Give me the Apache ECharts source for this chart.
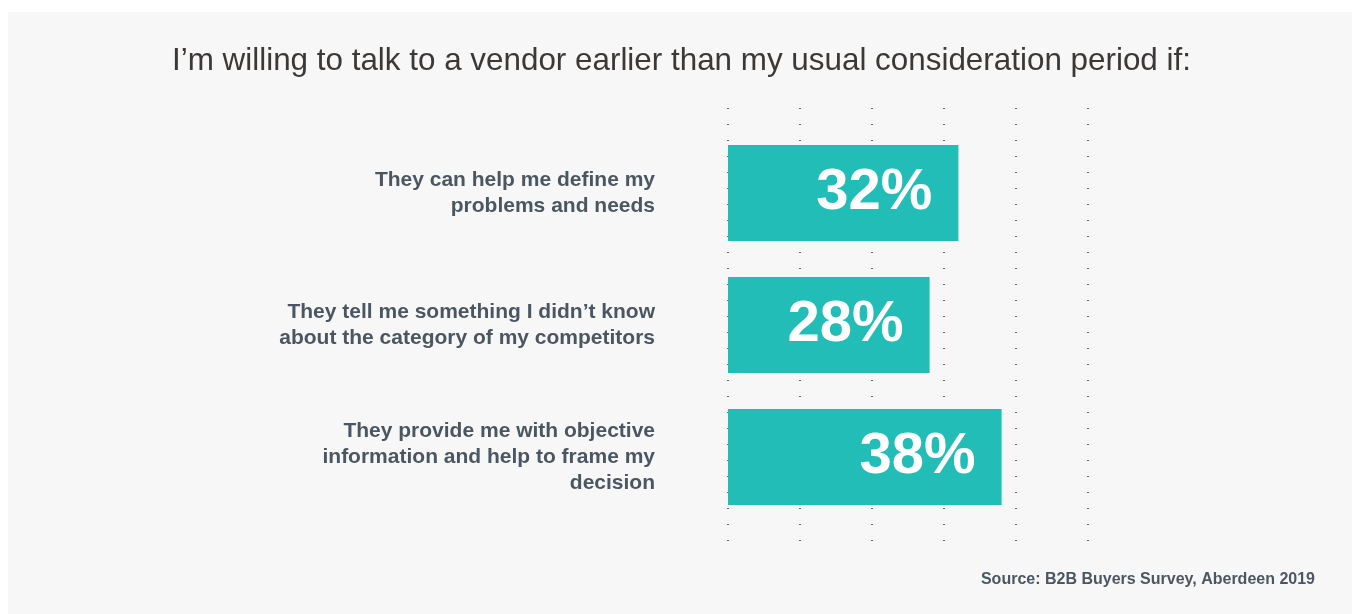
<!DOCTYPE html>
<html>
<head>
<meta charset="utf-8">
<script src="https://cdn.jsdelivr.net/npm/echarts@6/dist/echarts.min.js"></script>
<style>
  html, body { margin: 0; padding: 0; background: #ffffff; }
  #chart { width: 1353px; height: 614px; }
</style>
</head>
<body>
<div id="chart"></div>
<script>
// Survey answers, top to bottom
const categories = [
  'They can help me define my\nproblems and needs',
  'They tell me something I didn\u2019t know\nabout the category of my competitors',
  'They provide me with objective\ninformation and help to frame my\ndecision'
];
// Share of respondents, percent
const values = [32, 28, 38];
// Value axis range and step (percent)
const axisMin = 0;
const axisMax = 50;
const axisStep = 10;

const titleText = 'I\u2019m willing to talk to a vendor earlier than my usual consideration period if:';
const sourceText = 'Source: B2B Buyers Survey, Aberdeen 2019';

const labelColor = '#4a5763';
const barColor = '#23bdb8';

const chart = echarts.init(document.getElementById('chart'));

chart.setOption({
  backgroundColor: '#ffffff',
  animation: false,
  title: {
    text: titleText,
    left: 167,
    top: 41,
    textStyle: {
      fontFamily: 'Liberation Sans',
      fontWeight: 'normal',
      fontSize: 31.4,
      color: '#3b3836'
    }
  },
  graphic: [
    {
      type: 'rect',
      z: -10,
      silent: true,
      shape: { x: 8, y: 12, width: 1344, height: 602 },
      style: { fill: '#f7f7f7' }
    },
    {
      type: 'text',
      right: 38,
      top: 572,
      style: {
        text: sourceText,
        fill: labelColor,
        font: 'bold 16px "Liberation Sans", Arial, sans-serif'
      }
    }
  ],
  grid: [
    // bars
    { left: 728, width: 360, top: 127, height: 396 },
    // dotted reference lines, taller than the bar area
    { left: 728, width: 360, top: 108, height: 434 }
  ],
  xAxis: [
    {
      gridIndex: 0,
      type: 'value',
      min: axisMin, max: axisMax, interval: axisStep,
      axisLine: { show: false },
      axisTick: { show: false },
      axisLabel: { show: false },
      splitLine: { show: false }
    },
    {
      gridIndex: 1,
      type: 'value',
      min: axisMin, max: axisMax, interval: axisStep,
      axisLine: { show: false },
      axisTick: { show: false },
      axisLabel: { show: false },
      splitLine: {
        show: true,
        lineStyle: { color: '#5f6a75', width: 2, type: [1, 15] }
      }
    }
  ],
  yAxis: [
    {
      gridIndex: 0,
      type: 'category',
      data: categories,
      inverse: true,
      axisLine: { show: false },
      axisTick: { show: false },
      axisLabel: {
        margin: 73,
        align: 'right',
        fontFamily: 'Liberation Sans',
        fontWeight: 'bold',
        fontSize: 21,
        lineHeight: 26,
        color: labelColor
      }
    },
    {
      gridIndex: 1,
      type: 'category',
      data: categories,
      show: false
    }
  ],
  series: [
    {
      type: 'bar',
      xAxisIndex: 0,
      yAxisIndex: 0,
      data: values,
      barWidth: 96,
      z: 5,
      itemStyle: { color: barColor },
      label: {
        show: true,
        position: 'insideRight',
        distance: 26,
        formatter: '{c}%',
        color: '#ffffff',
        fontFamily: 'Liberation Sans',
        fontWeight: 'bold',
        fontSize: 58
      }
    }
  ]
});
</script>
</body>
</html>
